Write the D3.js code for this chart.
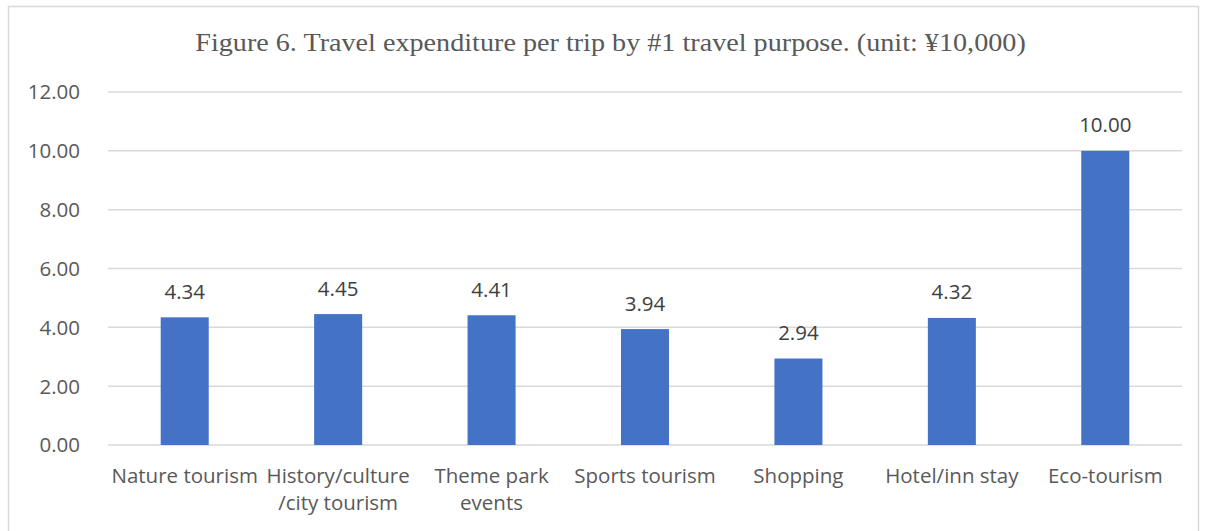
<!DOCTYPE html>
<html><head><meta charset="utf-8">
<script src="https://cdn.jsdelivr.net/npm/d3@7"></script>
<style>body{margin:0;background:#fff}svg{display:block}</style>
</head><body>
<script>
const categories = ["Nature tourism","History/culture\n/city tourism","Theme park\nevents","Sports tourism","Shopping","Hotel/inn stay","Eco-tourism"];
const values = [4.34,4.45,4.41,3.94,2.94,4.32,10.00];
const yTicks = [0,2,4,6,8,10,12];
const title = "Figure 6. Travel expenditure per trip by #1 travel purpose. (unit: ¥10,000)";

const W=1205,H=531;
const svg=d3.select("body").append("svg").attr("width",W).attr("height",H);
svg.append("rect").attr("x",8.5).attr("y",6.5).attr("width",1190).attr("height",540).attr("fill","#fff").attr("stroke","#d9d9d9").attr("stroke-width",1.5);

const x=d3.scaleBand().domain(categories).range([108,1182]);
const y=d3.scaleLinear().domain([0,12]).range([445,92]);
const sans="'Open Sans', sans-serif";
const fs=20.5;

const tt=svg.append("text").attr("text-anchor","middle")
  .attr("font-family","'Liberation Serif','Times New Roman',serif").attr("font-size",26).attr("fill","#595959").text(title);
const tw=tt.node().getComputedTextLength();
tt.attr("transform",`translate(610.5,51) scale(${831/tw},1)`);

const g=svg.append("g");
g.selectAll("line.grid").data(yTicks).join("line").attr("class","grid")
  .attr("x1",108).attr("x2",1182).attr("y1",d=>y(d)).attr("y2",d=>y(d))
  .attr("stroke","#d9d9d9").attr("stroke-width",1.5);
g.selectAll("text.yt").data(yTicks).join("text").attr("class","yt")
  .attr("x",80).attr("y",d=>y(d)).attr("dy","0.36em").attr("text-anchor","end")
  .attr("font-family",sans).attr("font-size",fs).attr("fill","#595959").text(d=>d.toFixed(2));

const bw=x.bandwidth()*0.313;
g.selectAll("rect.bar").data(values).join("rect").attr("class","bar")
  .attr("x",(d,i)=>x(categories[i])+x.bandwidth()/2-bw/2).attr("width",bw)
  .attr("y",d=>y(d)).attr("height",d=>y(0)-y(d)).attr("fill","#4472c4");
g.selectAll("text.val").data(values).join("text").attr("class","val")
  .attr("x",(d,i)=>x(categories[i])+x.bandwidth()/2).attr("y",d=>y(d)-18.5)
  .attr("text-anchor","middle").attr("font-family",sans).attr("font-size",fs).attr("fill","#404040")
  .text(d=>d.toFixed(2));

const xl=g.selectAll("text.xl").data(categories).join("text").attr("class","xl")
  .attr("x",d=>x(d)+x.bandwidth()/2).attr("y",482.5).attr("text-anchor","middle")
  .attr("font-family",sans).attr("font-size",fs).attr("fill","#595959");
xl.each(function(d){
  const t=d3.select(this);
  d.split("\n").forEach((s,i)=>t.append("tspan").attr("x",x(d)+x.bandwidth()/2).attr("dy",i?27:0).text(s));
});
</script>
</body></html>
